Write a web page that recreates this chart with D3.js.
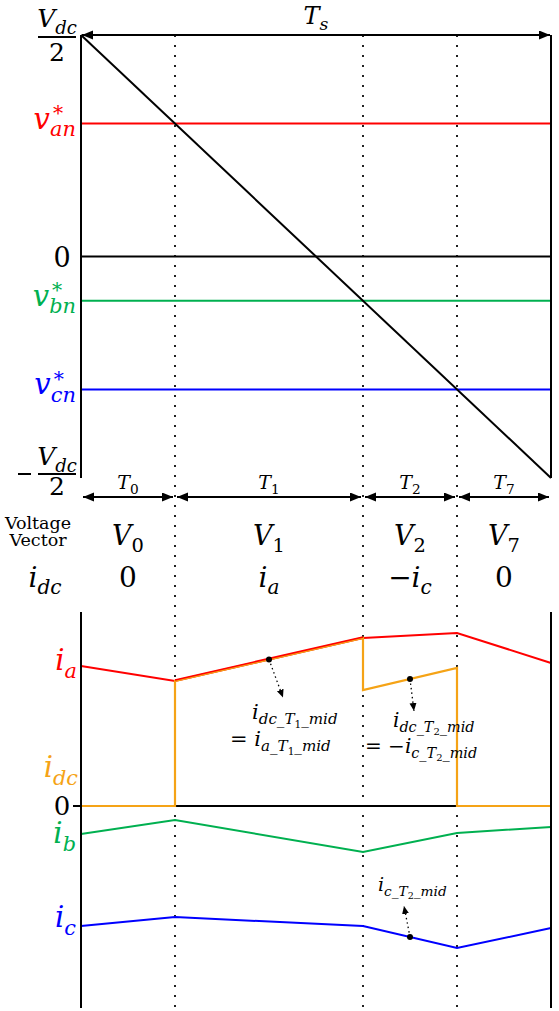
<!DOCTYPE html>
<html>
<head>
<meta charset="utf-8">
<script src="https://cdn.jsdelivr.net/npm/d3@7"></script>
<style>
  body { margin: 0; background: #fff; }
</style>
</head>
<body>
<div id="chart"></div>
<script>
// reference phase voltages, normalised to Vdc/2
const refNames = ["an", "bn", "cn"];
const refValues = [0.6, -0.2, -0.6];
const refColors = ["#ff0000", "#00b050", "#0000ff"];
// triangular carrier over one sampling period
const carrier = [{t: 0, v: 1}, {t: 1, v: -1}];

// switching sequence
const segTimes = ["0", "1", "2", "7"];
const segVectors = ["0", "1", "2", "7"];
const segIdc = [
  [["0", 0, 0]],
  [["i", 0, 1], ["a", 1, 1]],
  [["−", 0, 0], ["i", 0, 1], ["c", 1, 1]],
  [["0", 0, 0]]
];

// phase currents at the segment boundaries (arbitrary units)
const ia = [7.0, 6.25, 8.4, 8.65, 7.15];
const ib = [-1.4, -0.7, -2.3, -1.35, -1.05];
const ic = [-6.0, -5.55, -6.0, -7.1, -6.1];
// dc link current in each segment [start, end]
const idc = [[0, 0], [6.25, 8.4], [5.8, 6.9], [0, 0]];

const W = 559, H = 1011;
const FONT = "'DejaVu Serif', serif";
const ORANGE = "#f5a316";

const svg = d3.select("#chart").append("svg")
  .attr("width", W).attr("height", H);

const defs = svg.append("defs");
defs.append("marker")
  .attr("id", "ah")
  .attr("markerUnits", "userSpaceOnUse")
  .attr("markerWidth", 12).attr("markerHeight", 10)
  .attr("refX", 11).attr("refY", 4.5)
  .attr("orient", "auto-start-reverse")
  .append("path").attr("d", "M0,0 L11,4.5 L0,9 Z").attr("fill", "#000");
defs.append("marker")
  .attr("id", "sh")
  .attr("markerUnits", "userSpaceOnUse")
  .attr("markerWidth", 9).attr("markerHeight", 8)
  .attr("refX", 8).attr("refY", 3.5)
  .attr("orient", "auto")
  .append("path").attr("d", "M0,0 L8,3.5 L0,7 Z").attr("fill", "#000");

// scales
const x = d3.scaleLinear().domain([0, 1]).range([81, 551]);
const yV = d3.scaleLinear().domain([-1, 1]).range([478, 35]);
const yI = d3.scaleLinear().domain([-10, 10]).range([1006, 606]);

// carrier crossings give the segment boundaries
const cross = refValues.map(v => (1 - v) / 2).sort((a, b) => a - b);
const bounds = [0, ...cross, 1];

// text with sub/superscripts: parts = [text, level, italic, dx]
// level 1 = subscript, 2 = sub-subscript, -1 = superscript
function mtext(parent, px, py, parts, size, color, anchor) {
  const t = parent.append("text")
    .attr("x", px).attr("y", py)
    .attr("fill", color || "#000")
    .attr("text-anchor", anchor || "start")
    .style("font-family", FONT)
    .style("font-size", size + "px");
  let cur = 0;
  parts.forEach(p => {
    const lvl = p[1];
    const sz = lvl === 1 ? size * 0.72 : lvl === 2 ? size * 0.5 : lvl === -1 ? size * 0.7 : size;
    const shift = lvl === 1 ? size * 0.26 : lvl === 2 ? size * 0.42 : lvl === -1 ? -size * 0.3 : 0;
    const ts = t.append("tspan")
      .attr("dy", shift - cur)
      .style("font-size", sz + "px")
      .style("font-style", p[2] ? "italic" : "normal")
      .text(p[0]);
    if (p[3]) ts.attr("dx", p[3]);
    cur = shift;
  });
  return t;
}

const g = svg.append("g");

// ---------- voltage plot ----------
// vertical dotted boundaries
g.selectAll(".bnd").data(cross).join("line")
  .attr("x1", d => x(d)).attr("x2", d => x(d))
  .attr("y1", yV(1)).attr("y2", 1008)
  .attr("stroke", "#222").attr("stroke-width", 2)
  .attr("stroke-dasharray", "2 8");

g.selectAll(".ref").data(refValues).join("line")
  .attr("x1", x(0)).attr("x2", x(1))
  .attr("y1", d => yV(d)).attr("y2", d => yV(d))
  .attr("stroke", (d, i) => refColors[i]).attr("stroke-width", 2);

g.append("line")
  .attr("x1", x(0)).attr("x2", x(1))
  .attr("y1", yV(0)).attr("y2", yV(0))
  .attr("stroke", "#000").attr("stroke-width", 2);

g.append("path")
  .datum(carrier)
  .attr("d", d3.line().x(d => x(d.t)).y(d => yV(d.v)))
  .attr("stroke", "#000").attr("stroke-width", 2).attr("fill", "none");

// frame
[0, 1].forEach(t => {
  g.append("line")
    .attr("x1", x(t)).attr("x2", x(t))
    .attr("y1", yV(1)).attr("y2", yV(-1))
    .attr("stroke", "#000").attr("stroke-width", 2);
});

// Ts arrow
g.append("line")
  .attr("x1", x(0) + 1).attr("x2", x(1) - 1)
  .attr("y1", yV(1)).attr("y2", yV(1))
  .attr("stroke", "#000").attr("stroke-width", 2)
  .attr("marker-start", "url(#ah)").attr("marker-end", "url(#ah)");
mtext(g, 316, 24, [["T", 0, 1], ["s", 1, 1]], 24, "#000", "middle");

// Vdc/2 labels
mtext(g, 57, 27, [["V", 0, 1], ["dc", 1, 1]], 25, "#000", "middle");
g.append("line").attr("x1", 38).attr("x2", 76).attr("y1", 37).attr("y2", 37)
  .attr("stroke", "#000").attr("stroke-width", 2);
mtext(g, 57, 61, [["2", 0, 0]], 25, "#000", "middle");

mtext(g, 57, 465, [["V", 0, 1], ["dc", 1, 1]], 25, "#000", "middle");
g.append("line").attr("x1", 38).attr("x2", 76).attr("y1", 474).attr("y2", 474)
  .attr("stroke", "#000").attr("stroke-width", 2);
g.append("line").attr("x1", 18).attr("x2", 31).attr("y1", 474).attr("y2", 474)
  .attr("stroke", "#000").attr("stroke-width", 2);
mtext(g, 57, 495, [["2", 0, 0]], 25, "#000", "middle");

mtext(g, 62, yV(0) + 10, [["0", 0, 0]], 27, "#000", "middle");

refValues.forEach((v, i) => {
  mtext(g, 76, yV(v) + 5,
    [["v", 0, 1], ["*", -1, 0, 3], [refNames[i], 1, 1, -13]], 29, refColors[i], "end");
});

// ---------- segment row ----------
const segs = d3.range(4).map(i => ({t0: bounds[i], t1: bounds[i + 1], i}));
g.selectAll(".seg").data(segs).join("line")
  .attr("x1", d => x(d.t0) + 2).attr("x2", d => x(d.t1) - 2)
  .attr("y1", 497).attr("y2", 497)
  .attr("stroke", "#000").attr("stroke-width", 2)
  .attr("marker-start", "url(#ah)").attr("marker-end", "url(#ah)");

segs.forEach(d => {
  const cx = x((d.t0 + d.t1) / 2);
  mtext(g, cx, 489, [["T", 0, 1], [segTimes[d.i], 1, 0]], 19, "#000", "middle");
  mtext(g, cx, 545, [["V", 0, 1], [segVectors[d.i], 1, 0]], 27, "#000", "middle");
  mtext(g, cx, 587, segIdc[d.i], 28, "#000", "middle");
});

g.append("text").attr("x", 38).attr("y", 529).attr("text-anchor", "middle")
  .style("font-family", FONT).style("font-size", "17.5px").text("Voltage");
g.append("text").attr("x", 38).attr("y", 546).attr("text-anchor", "middle")
  .style("font-family", FONT).style("font-size", "17.5px").text("Vector");
mtext(g, 45, 587, [["i", 0, 1], ["dc", 1, 1]], 28, "#000", "middle");

// ---------- current plot ----------
const pts = arr => arr.map((v, i) => ({t: bounds[i], v}));
const line = d3.line().x(d => x(d.t)).y(d => yI(d.v));

g.append("line")
  .attr("x1", x(0) - 8).attr("x2", x(1))
  .attr("y1", yI(0)).attr("y2", yI(0))
  .attr("stroke", "#000").attr("stroke-width", 2);

[[ib, "#00b050"], [ic, "#0000ff"], [ia, "#ff0000"]].forEach(([arr, c]) => {
  g.append("path").datum(pts(arr)).attr("d", line)
    .attr("fill", "none").attr("stroke", c).attr("stroke-width", 2);
});

const idcPts = [];
idc.forEach((s, i) => {
  idcPts.push({t: bounds[i], v: s[0]});
  idcPts.push({t: bounds[i + 1], v: s[1]});
});
g.append("path").datum(idcPts).attr("d", line)
  .attr("fill", "none").attr("stroke", ORANGE).attr("stroke-width", 2.2);
// ia drawn again on top where it overlaps idc
g.append("path").datum(pts(ia).slice(1, 3)).attr("d", line)
  .attr("transform", "translate(0,-1)")
  .attr("fill", "none").attr("stroke", "#ff0000").attr("stroke-width", 1.6);

[0, 1].forEach(t => {
  g.append("line")
    .attr("x1", x(t)).attr("x2", x(t))
    .attr("y1", 612).attr("y2", 1008)
    .attr("stroke", "#000").attr("stroke-width", 2);
});

// labels
mtext(g, 77, 670, [["i", 0, 1], ["a", 1, 1]], 29, "#ff0000", "end");
mtext(g, 78, 777, [["i", 0, 1], ["dc", 1, 1]], 29, ORANGE, "end");
mtext(g, 62, 815, [["0", 0, 0]], 26, "#000", "middle");
mtext(g, 76, 843, [["i", 0, 1], ["b", 1, 1]], 29, "#00b050", "end");
mtext(g, 76, 927, [["i", 0, 1], ["c", 1, 1]], 29, "#0000ff", "end");

// mid-point markers with dotted pointers
const interp = (a, b) => (a + b) / 2;
const marks = [
  {t: interp(bounds[1], bounds[2]), v: interp(ia[1], ia[2]), dx: 14, dy: 38},
  {t: interp(bounds[2], bounds[3]), v: interp(idc[2][0], idc[2][1]), dx: 4, dy: 32},
  {t: interp(bounds[2], bounds[3]), v: interp(ic[2], ic[3]), dx: -6, dy: -31}
];
marks.forEach(m => {
  const mx = x(m.t), my = yI(m.v);
  g.append("line")
    .attr("x1", mx).attr("y1", my)
    .attr("x2", mx + m.dx).attr("y2", my + m.dy)
    .attr("stroke", "#000").attr("stroke-width", 1.3)
    .attr("stroke-dasharray", "1.5 3")
    .attr("marker-end", "url(#sh)");
  g.append("circle").attr("cx", mx).attr("cy", my).attr("r", 3).attr("fill", "#000");
});

mtext(g, 252, 719, [["i", 0, 1], ["dc_T", 1, 1], ["1", 2, 0], ["_mid", 1, 1]], 21, "#000");
mtext(g, 230, 746, [["= ", 0, 0], ["i", 0, 1], ["a_T", 1, 1], ["1", 2, 0], ["_mid", 1, 1]], 21, "#000");
mtext(g, 393, 727, [["i", 0, 1], ["dc_T", 1, 1], ["2", 2, 0], ["_mid", 1, 1]], 20, "#000");
mtext(g, 365, 753, [["= −", 0, 0], ["i", 0, 1], ["c_T", 1, 1], ["2", 2, 0], ["_mid", 1, 1]], 20, "#000");
mtext(g, 378, 891, [["i", 0, 1], ["c_T", 1, 1], ["2", 2, 0], ["_mid", 1, 1]], 19, "#000");
</script>
</body>
</html>
